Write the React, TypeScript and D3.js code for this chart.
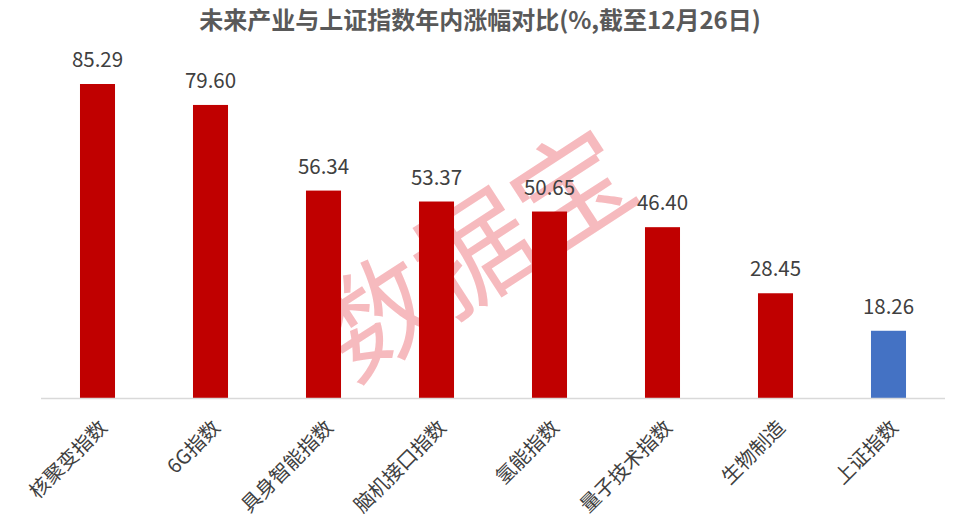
import React from "react";
import * as d3 from "d3";

const categories = ["核聚变指数", "6G指数", "具身智能指数", "脑机接口指数", "氢能指数", "量子技术指数", "生物制造", "上证指数"];
const values = [85.29, 79.6, 56.34, 53.37, 50.65, 46.4, 28.45, 18.26];
const title = "未来产业与上证指数年内涨幅对比(%,截至12月26日)";
const watermark = "数据宝";

const W = 954;
const H = 528;
const left = 41;
const right = 945;
const baseY = 398;
const font = "'Noto Sans CJK SC', 'Microsoft YaHei', sans-serif";

export default function App() {
  const x = d3.scaleBand<string>().domain(categories).range([left, right]).paddingInner(0.69).paddingOuter(0.345);
  const y = d3.scaleLinear().domain([0, 85.29]).range([baseY, 84]);
  const bw = x.bandwidth();
  return (
    <svg width={W} height={H} style={{ position: "absolute", left: 0, top: 0, background: "#fff" }} fontFamily={font}>
      <text x={480} y={29} textAnchor="middle" fontSize={24} fontWeight="bold" fill="#595959">{title}</text>
      <text
        transform="translate(470,246) rotate(-33)"
        textAnchor="middle"
        dominantBaseline="central"
        fontSize={116}
        fill="#F4A9AE"
        fillOpacity={0.8}
      >{watermark}</text>
      {categories.map((c, i) => (
        <rect key={c} x={x(c)!} y={y(values[i])} width={bw} height={baseY - y(values[i])} fill={i === categories.length - 1 ? "#4472C4" : "#C00000"} />
      ))}
      <line x1={left} x2={right} y1={baseY + 0.5} y2={baseY + 0.5} stroke="#D9D9D9" strokeWidth={1.5} />
      {categories.map((c, i) => (
        <text key={"v" + c} x={x(c)! + bw / 2} y={y(values[i]) - 17} textAnchor="middle" fontSize={20.5} fill="#404040">{values[i].toFixed(2)}</text>
      ))}
      {categories.map((c) => (
        <text key={"l" + c} transform={`translate(${x(c)! + bw / 2 + 6},${424}) rotate(-45)`} textAnchor="end" dy="0.35em" fontSize={20} fill="#404040">{c}</text>
      ))}
    </svg>
  );
}
